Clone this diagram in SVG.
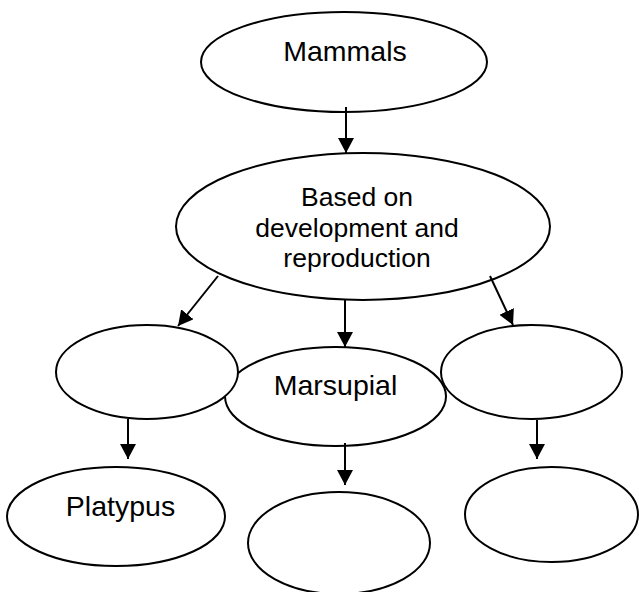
<svg xmlns="http://www.w3.org/2000/svg" width="639" height="592" viewBox="0 0 639 592">
<style>
.n{fill:#fff;stroke:#000;stroke-width:2}
.c{stroke:#000;stroke-width:2;fill:none;marker-end:url(#ah)}
text{font-family:"Liberation Sans",Arial,sans-serif;fill:#000;text-anchor:middle}
.big{font-size:28.5px}
.mid{font-size:26.5px}
</style>
<defs>
<marker id="ah" markerUnits="userSpaceOnUse" markerWidth="15" markerHeight="16" refX="15" refY="8" orient="auto">
<path d="M0,0 L15,8 L0,16 Z" fill="#000"/>
</marker>
</defs>
<rect width="639" height="592" fill="#fff"/>
<g id="mammals"><ellipse class="n" cx="344" cy="62" rx="143" ry="50"/><text class="big" x="345" y="61">Mammals</text></g>
<g id="based"><ellipse class="n" cx="363" cy="226.5" rx="187" ry="73.5"/><text class="mid" x="357" y="206">Based on</text><text class="mid" x="357" y="236.5">development and</text><text class="mid" x="357" y="267">reproduction</text></g>
<g id="marsupial"><ellipse class="n" cx="335.5" cy="396.5" rx="110.5" ry="49.5"/><text class="big" x="335.5" y="395">Marsupial</text></g>
<g id="left"><ellipse class="n" cx="147" cy="372" rx="91" ry="47"/></g>
<g id="right"><ellipse class="n" cx="531.5" cy="372" rx="90.5" ry="47"/></g>
<g id="platypus"><ellipse class="n" cx="116" cy="516.5" rx="109" ry="49.5"/><text class="big" x="120.5" y="516">Platypus</text></g>
<g id="bottommid"><ellipse class="n" cx="339" cy="543" rx="91" ry="51"/></g>
<g id="bottomright"><ellipse class="n" cx="551.5" cy="514.5" rx="86.5" ry="47.5"/></g>
<g id="connectors">
<line class="c" x1="346" y1="107" x2="346" y2="153"/>
<line class="c" x1="218" y1="276" x2="178" y2="326"/>
<line class="c" x1="345" y1="300" x2="345" y2="347"/>
<line class="c" x1="490" y1="276" x2="513" y2="325"/>
<line class="c" x1="128" y1="419" x2="128" y2="459"/>
<line class="c" x1="345" y1="443" x2="345" y2="485"/>
<line class="c" x1="537" y1="420" x2="537" y2="459"/>
</g>
</svg>
